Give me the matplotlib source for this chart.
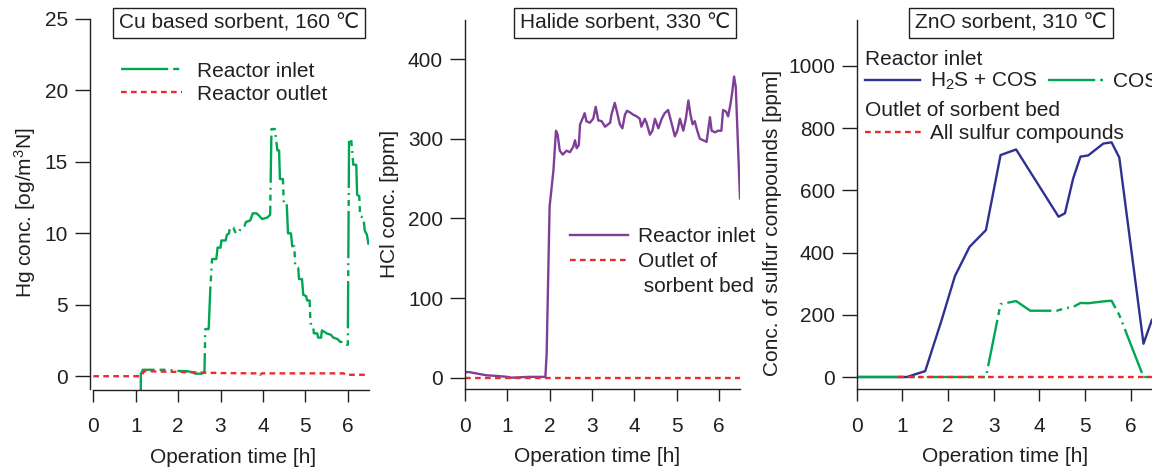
import matplotlib
matplotlib.use('Agg')
import matplotlib.pyplot as plt
from matplotlib.lines import Line2D

plt.rcParams['font.family'] = ['Liberation Sans', 'DejaVu Sans']
plt.rcParams['mathtext.fontset'] = 'custom'
plt.rcParams['mathtext.rm'] = 'Liberation Sans'
plt.rcParams['mathtext.default'] = 'regular'
plt.rcParams['lines.scale_dashes'] = False

# ---------------- data ----------------
# Panel 1: Cu based sorbent (Hg)
cu_inlet_t = [1.12, 1.12, 1.17, 1.8, 1.9, 2.2, 2.35, 2.4, 2.55, 2.62, 2.64, 2.72, 2.76, 2.8, 2.9,
              2.93, 3.0, 3.02, 3.12, 3.15, 3.2, 3.22, 3.3, 3.36, 3.44, 3.48, 3.56, 3.6, 3.7, 3.76,
              3.85, 3.92, 3.98, 4.1, 4.17, 4.2, 4.28, 4.34, 4.38, 4.4, 4.47, 4.49, 4.56, 4.59, 4.66,
              4.69, 4.74, 4.76, 4.83, 4.85, 4.92, 4.95, 5.02, 5.04, 5.1, 5.12, 5.18, 5.2, 5.28, 5.3,
              5.37, 5.39, 5.45, 5.5, 5.6, 5.66, 5.76, 5.82, 5.9, 5.97, 6.0, 6.03, 6.08, 6.13, 6.2,
              6.22, 6.27, 6.29, 6.37, 6.4, 6.45, 6.49]
cu_inlet_v = [-2.0, 0.17, 0.45, 0.45, 0.38, 0.35, 0.28, 0.18, 0.18, 0.25, 3.3, 3.3, 6.2, 8.2, 8.2,
              9.0, 9.0, 9.5, 9.5, 9.9, 10.0, 10.4, 10.4, 10.0, 10.1, 10.4, 10.5, 10.8, 10.9, 11.4,
              11.4, 11.2, 11.0, 11.1, 11.3, 17.3, 17.3, 15.8, 15.8, 13.8, 13.8, 12.1, 12.1, 10.0, 10.0,
              9.1, 9.1, 7.7, 7.6, 6.8, 6.8, 5.7, 5.6, 5.3, 5.3, 3.7, 3.6, 3.0, 3.0, 2.7,
              2.7, 3.2, 3.1, 3.0, 2.9, 2.7, 2.6, 2.4, 2.4, 2.2, 2.2, 16.6, 16.6, 14.8, 14.8,
              12.7, 12.6, 11.2, 11.1, 10.2, 9.9, 9.2]
cu_outlet_t = [0.0, 1.12, 1.2, 2.0, 3.0, 3.9, 3.93, 3.98, 5.9, 5.95, 6.5]
cu_outlet_v = [0.0, 0.0, 0.35, 0.3, 0.22, 0.2, 0.1, 0.2, 0.2, 0.1, 0.1]

# Panel 2: Halide sorbent (HCl)
hcl_inlet_t = [0.0, 0.1, 0.3, 0.5, 0.8, 1.0, 1.1, 1.5, 1.9, 1.93, 2.0, 2.09, 2.15, 2.19, 2.24,
               2.31, 2.4, 2.48, 2.56, 2.6, 2.64, 2.69, 2.72, 2.8, 2.83, 2.87, 2.95, 3.03, 3.09, 3.15,
               3.23, 3.31, 3.43, 3.46, 3.54, 3.6, 3.66, 3.72, 3.78, 3.83, 3.9, 3.98, 4.06, 4.13, 4.17,
               4.25, 4.29, 4.37, 4.43, 4.49, 4.57, 4.65, 4.72, 4.8, 4.88, 4.96, 5.02, 5.08, 5.16, 5.22,
               5.28, 5.33, 5.38, 5.43, 5.49, 5.55, 5.63, 5.71, 5.79, 5.83, 5.91, 5.98, 6.06, 6.1, 6.17,
               6.22, 6.28, 6.32, 6.36, 6.4, 6.5]
hcl_inlet_v = [7, 7, 5, 3, 2, 1, 0, 1, 1, 30, 215, 260, 310, 305, 285,
               280, 285, 283, 290, 298, 288, 292, 318, 328, 332, 322, 320, 325, 340, 323,
               322, 315, 320, 330, 345, 332, 318, 313, 330, 335, 333, 330, 328, 325, 315,
               325, 320, 305, 310, 325, 313, 325, 332, 336, 320, 303, 310, 325, 310, 325,
               348, 330, 318, 322, 310, 300, 298, 296, 327, 310, 308, 310, 310, 336, 334,
               328, 345, 360, 378, 365, 225]
hcl_outlet_t = [0.0, 6.5]
hcl_outlet_v = [0, 0]

# Panel 3: ZnO sorbent (sulfur compounds)
s_total_t = [0.0, 1.1, 1.5, 1.86, 2.15, 2.47, 2.83, 3.15, 3.49, 4.42, 4.56, 4.74, 4.9, 5.07,
             5.4, 5.58, 5.75, 6.28, 6.46, 6.5]
s_total_v = [0, 0, 19, 183, 324, 418, 472, 713, 731, 515, 526, 638, 708, 712,
             750, 754, 705, 107, 182, 190]
s_cos_t = [0.0, 2.83, 3.15, 3.49, 3.8, 4.38, 4.6, 4.74, 4.9, 5.07, 5.4, 5.58, 5.75, 6.28, 6.5]
s_cos_v = [0, 0, 234, 244, 213, 213, 222, 225, 238, 237, 243, 245, 199, 0, 0]
s_outlet_t = [0.9, 7.0]
s_outlet_v = [0, 0]

# ---------------- style ----------------
FS = 15
INK = '#231f20'
GREEN = '#00a651'
RED = '#ee2a2e'
PURPLE = '#7f3f98'
BLUE = '#2e3192'
LW = 1.7
GREEN_DASH = (0, (34, 3.6, 4.3, 3.6, 1.4, 3.6))
RED_DASH = (0, (4.1, 3.1))

W, H = 1152, 470
fig = plt.figure(figsize=(W / 100, H / 100), dpi=100)


def add_axes(left_px, right_px, top_px, bottom_px):
    return fig.add_axes([left_px / W, 1 - bottom_px / H,
                         (right_px - left_px) / W, (bottom_px - top_px) / H])


def style(ax, xmax_spine):
    for s in ('top', 'right'):
        ax.spines[s].set_visible(False)
    for s in ('left', 'bottom'):
        ax.spines[s].set_color(INK)
        ax.spines[s].set_linewidth(1.0)
    ax.spines['bottom'].set_bounds(0, xmax_spine)
    ax.tick_params(axis='y', direction='out', length=10.8, width=1.0, color=INK,
                   labelsize=FS, labelcolor=INK, pad=5.0)
    ax.tick_params(axis='x', direction='out', length=8.6, width=1.0, color=INK,
                   labelsize=FS, labelcolor=INK, pad=11.5)
    ax.set_xticks(range(0, 7))
    ax.patch.set_alpha(0)


def box_title(ax, x, y, s):
    ax.text(x, y, s, transform=ax.transAxes, ha='center', va='center', fontsize=FS,
            color=INK, bbox=dict(boxstyle='square,pad=0.28', fc='white', ec=INK, lw=1.0),
            clip_on=False, zorder=10)


# ---- Panel 1 ----
ax1 = add_axes(90, 369, 19, 389.5)
ax1.plot(cu_inlet_t, cu_inlet_v, color=GREEN, lw=LW, linestyle=GREEN_DASH)
ax1.plot(cu_outlet_t, cu_outlet_v, color=RED, lw=LW, linestyle=RED_DASH)
ax1.set_xlim(-0.078, 6.5)
ax1.set_ylim(-0.93, 25)
ax1.set_yticks(range(0, 26, 5))
style(ax1, 6.5)
ax1.set_xlabel('Operation time [h]', fontsize=FS, color=INK, va='center')
ax1.xaxis.set_label_coords(0.512, -0.183)
ax1.set_ylabel('Hg conc. [og/m$^3$N]', fontsize=FS, color=INK, va='center')
ax1.yaxis.set_label_coords(-0.233, 0.476)
box_title(ax1, 0.534, 0.989, 'Cu based sorbent, 160 \u2103')
h1 = [Line2D([], [], color=GREEN, lw=LW, linestyle=GREEN_DASH),
      Line2D([], [], color=RED, lw=LW, linestyle=RED_DASH)]
ax1.legend(h1, ['Reactor inlet', 'Reactor outlet'], loc='upper left',
           bbox_to_anchor=(0.111, 0.885), frameon=False, borderpad=0, borderaxespad=0,
           handlelength=2.93, handletextpad=0.72, labelspacing=0.2, fontsize=FS,
           labelcolor=INK)

# ---- Panel 2 ----
ax2 = add_axes(465, 740, 20, 389.3)
ax2.plot(hcl_inlet_t, hcl_inlet_v, color=PURPLE, lw=LW)
ax2.plot(hcl_outlet_t, hcl_outlet_v, color=RED, lw=LW, linestyle=RED_DASH)
ax2.set_xlim(0, 6.5)
ax2.set_ylim(-14.6, 449)
ax2.set_yticks(range(0, 401, 100))
style(ax2, 6.5)
ax2.set_xlabel('Operation time [h]', fontsize=FS, color=INK, va='center')
ax2.xaxis.set_label_coords(0.479, -0.183)
ax2.set_ylabel('HCl conc. [ppm]', fontsize=FS, color=INK, va='center')
ax2.yaxis.set_label_coords(-0.273, 0.502)
box_title(ax2, 0.582, 0.992, 'Halide sorbent, 330 \u2103')
h2 = [Line2D([], [], color=PURPLE, lw=LW),
      Line2D([], [], color=RED, lw=LW, linestyle=RED_DASH),
      Line2D([], [], color='none', lw=0)]
ax2.legend(h2, ['Reactor inlet', 'Outlet of', ' sorbent bed'], loc='upper left',
           bbox_to_anchor=(0.382, 0.44), frameon=False, borderpad=0, borderaxespad=0,
           handlelength=2.78, handletextpad=0.48, labelspacing=0.3, fontsize=FS,
           labelcolor=INK)

# ---- Panel 3 ----
ax3 = add_axes(856.7, 856.7 + 7 * 45.67, 20, 389.3)
ax3.plot(s_total_t, s_total_v, color=BLUE, lw=LW)
ax3.plot(s_cos_t, s_cos_v, color=GREEN, lw=LW, linestyle=GREEN_DASH)
ax3.plot(s_outlet_t, s_outlet_v, color=RED, lw=LW, linestyle=RED_DASH)
ax3.set_xlim(0, 7)
ax3.set_ylim(-39.5, 1147)
ax3.set_yticks(range(0, 1001, 200))
style(ax3, 7)
ax3.set_xlabel('Operation time [h]', fontsize=FS, color=INK, va='center')
ax3.xaxis.set_label_coords(0.464, -0.183)
ax3.set_ylabel('Conc. of sulfur compounds [ppm]', fontsize=FS, color=INK, va='center')
ax3.yaxis.set_label_coords(-0.262, 0.45)
box_title(ax3, 0.483, 0.992, 'ZnO sorbent, 310 \u2103')
h3a = [Line2D([], [], color=BLUE, lw=LW),
       Line2D([], [], color=GREEN, lw=LW, linestyle=GREEN_DASH)]
leg3a = ax3.legend(h3a, ['H$_2$S + COS', 'COS'], loc='upper left', ncol=2,
                   title='Reactor inlet', title_fontsize=FS, alignment='left',
                   bbox_to_anchor=(0.026, 0.92), frameon=False, borderpad=0, borderaxespad=0,
                   handlelength=2.64, handletextpad=0.48, columnspacing=0.48, labelspacing=0.12,
                   fontsize=FS, labelcolor=INK)
leg3a.get_title().set_color(INK)
ax3.add_artist(leg3a)
h3b = [Line2D([], [], color=RED, lw=LW, linestyle=RED_DASH)]
leg3b = ax3.legend(h3b, ['All sulfur compounds'], loc='upper left',
                   title='Outlet of sorbent bed', title_fontsize=FS, alignment='left',
                   bbox_to_anchor=(0.026, 0.781), frameon=False, borderpad=0, borderaxespad=0,
                   handlelength=2.74, handletextpad=0.4, labelspacing=0.2,
                   fontsize=FS, labelcolor=INK)
leg3b.get_title().set_color(INK)

fig.savefig('out.png', dpi=100)
